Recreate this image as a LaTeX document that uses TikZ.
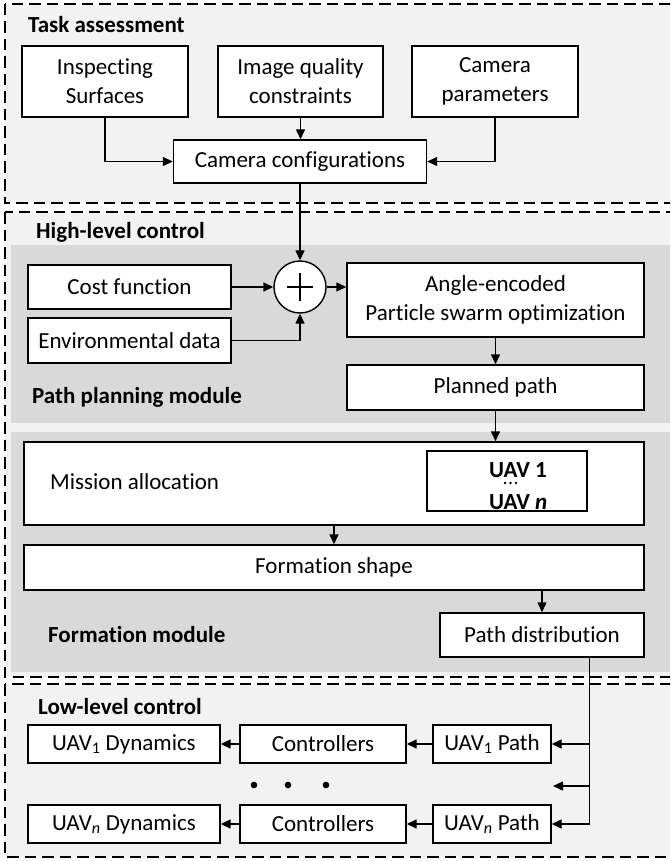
\documentclass[tikz,border=0pt]{standalone}
\usepackage{fontspec}
\setmainfont{Carlito}[Ligatures={NoCommon}]
\usetikzlibrary{arrows.meta,calc}
\definecolor{bglight}{HTML}{F2F2F2}
\definecolor{bgmod}{HTML}{D9D9D9}
\tikzset{
  blk/.style={draw, line width=1.4pt, fill=white, inner sep=0pt, align=center},
  arr/.style={line width=1.4pt, -{Triangle[length=10pt,width=9pt]}},
  layerbox/.style={draw, fill=bglight, line width=1.2pt, dash pattern=on 11.5pt off 6pt},
  modregion/.style={fill=bgmod, draw=none},
  ttl/.style={anchor=west, font=\fontsize{23}{29}\selectfont\bfseries, inner sep=0pt},
}
\begin{document}
\begin{tikzpicture}[x=1pt,y=-1pt,font=\fontsize{23}{29}\selectfont]
\useasboundingbox (0,0) rectangle (670,861);
\fill[white] (0,0) rectangle (670,861);
\clip (0,0) rectangle (670,861);

% layer boxes
\draw[layerbox] (5,4) rectangle (690,203);
\draw[layerbox] (5,212) rectangle (690,677);
\draw[layerbox] (5,684) rectangle (690,857);

% module regions
\fill[modregion] (11,245) rectangle (690,423);
\fill[modregion] (11,432) rectangle (690,672);

% titles
\node[ttl] (t1) at (28,25) {Task assessment};
\node[ttl] (t2) at (36,232) {High-level control};
\node[ttl] (t3) at (32,397) {Path planning module};
\node[ttl] (t4) at (48,635) {Formation module};
\node[ttl] (t5) at (38,707) {Low-level control};

% task assessment
\node[blk, minimum width=166pt, minimum height=71pt] (insp) at (105,81.5) {Inspecting\\Surfaces};
\node[blk, minimum width=165pt, minimum height=71pt] (iqc) at (300.5,81.5) {Image quality\\constraints};
\node[blk, minimum width=166pt, minimum height=71pt] (campar) at (495,81.5) {Camera\\parameters};
\node[blk, minimum width=253pt, minimum height=43pt] (camconf) at (300,161.5) {Camera configurations};

% path planning
\node[blk, minimum width=203pt, minimum height=44pt] (costf) at (129.5,287) {Cost function};
\node[blk, minimum width=203pt, minimum height=45pt] (envd) at (129.5,340.5) {Environmental data};
\node[draw, line width=1.4pt, fill=white, circle, minimum size=52pt, inner sep=0pt] (sum) at (300,287) {};
\draw[line width=1.4pt] ($(sum.center)+(-13,0)$) -- ($(sum.center)+(13,0)$);
\draw[line width=1.4pt] ($(sum.center)+(0,-14)$) -- ($(sum.center)+(0,14)$);
\node[blk, minimum width=297pt, minimum height=74pt] (pso) at (495.5,300) {Angle-encoded\\Particle swarm optimization};
\node[blk, minimum width=297pt, minimum height=45pt] (plan) at (495.5,387.5) {Planned path};

% formation
\node[blk, minimum width=620pt, minimum height=83pt] (miss) at (334,483.5) {};
\node[anchor=west, inner sep=0pt] (misst) at (50,482) {Mission allocation};
\node[blk, minimum width=160pt, minimum height=60pt] (uavbox) at (507,481) {};
\node[anchor=west, inner sep=0pt, align=left, font=\fontsize{23}{32}\selectfont\bfseries] (uavt) at (489,486) {UAV 1\\UAV \textit{n}};
\foreach \dx in {505,510.5,516} \fill (\dx,483) circle (1.4pt);
\node[blk, minimum width=620pt, minimum height=45pt] (fshape) at (334,567.5) {Formation shape};
\node[blk, minimum width=204pt, minimum height=44pt] (pdist) at (542,635) {Path distribution};

% low-level
\node[blk, minimum width=192pt, minimum height=38pt] (d1) at (124,744) {UAV\textsubscript{1} Dynamics};
\node[blk, minimum width=166pt, minimum height=38pt] (c1) at (323,744) {Controllers};
\node[blk, minimum width=118pt, minimum height=38pt] (p1) at (492,744) {UAV\textsubscript{1} Path};
\node[blk, minimum width=192pt, minimum height=38pt] (dn) at (124,824) {UAV\textsubscript{\itshape n} Dynamics};
\node[blk, minimum width=166pt, minimum height=38pt] (cn) at (323,824) {Controllers};
\node[blk, minimum width=118pt, minimum height=38pt] (pn) at (492,824) {UAV\textsubscript{\itshape n} Path};
\foreach \dx in {254,288,326} \fill (\dx,785) circle (3.3pt);

% connectors
\draw[arr] (insp.south) |- (camconf.west);
\draw[arr] (iqc.south) -- (iqc.south |- camconf.north);
\draw[arr] (campar.south) |- (camconf.east);
\draw[arr] (camconf.south) -- (sum.north);
\draw[arr] (costf.east) -- (sum.west);
\draw[arr] (envd.east) -| (sum.south);
\draw[arr] (sum.east) -- (sum.east -| pso.west);
\draw[arr] (pso.south) -- (plan.north);
\draw[arr] (plan.south) -- (plan.south |- miss.north);
\draw[arr] (miss.south) -- (fshape.north);
\draw[arr] (fshape.south -| pdist.north) -- (pdist.north);
\coordinate (j0) at ($(pdist.south east)+(-55,0)$);
\coordinate (midend) at (553,786);
\draw[arr] (j0) |- (pn.east);
\draw[arr] (j0 |- p1.east) -- (p1.east);
\draw[arr] (j0 |- midend) -- (midend);
\draw[arr] (p1.west) -- (c1.east);
\draw[arr] (c1.west) -- (d1.east);
\draw[arr] (pn.west) -- (cn.east);
\draw[arr] (cn.west) -- (dn.east);
\end{tikzpicture}
\end{document}
